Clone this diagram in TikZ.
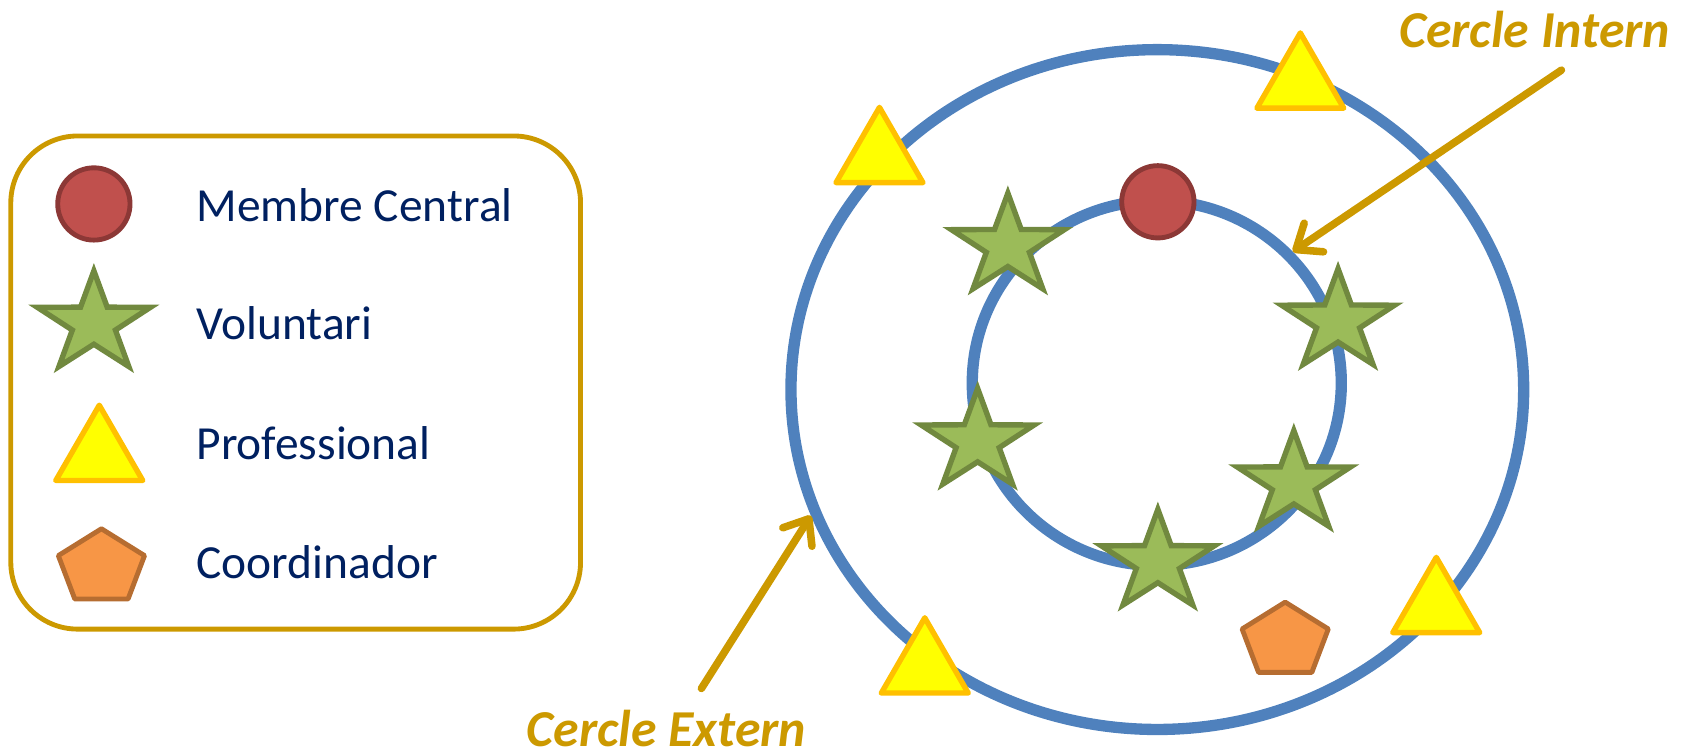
\documentclass[tikz,border=0pt]{standalone}
\usepackage{fontspec}
\setmainfont{Carlito}
\usetikzlibrary{shapes.geometric,arrows.meta}
\definecolor{ringblue}{RGB}{79,129,189}
\definecolor{gold}{RGB}{204,153,0}
\definecolor{navy}{RGB}{0,32,96}
\definecolor{redfill}{RGB}{192,80,77}
\definecolor{redline}{RGB}{140,56,54}
\definecolor{greenfill}{RGB}{155,187,89}
\definecolor{greenline}{RGB}{113,137,63}
\definecolor{yelfill}{RGB}{255,255,0}
\definecolor{yelline}{RGB}{255,192,0}
\definecolor{orfill}{RGB}{247,150,70}
\definecolor{orline}{RGB}{182,109,49}
\tikzset{
  ring/.style={draw=ringblue,line width=10.5pt,ellipse,inner sep=0pt},
  member/.style={circle,draw=redline,fill=redfill,line width=4.5pt,minimum size=67pt,inner sep=0pt},
  prof/.style={regular polygon,regular polygon sides=3,draw=yelline,fill=yelfill,line width=5pt,line join=round,minimum size=93pt,inner sep=0pt},
  legendbox/.style={draw=gold,line width=4.5pt,rounded corners=62pt,inner sep=0pt},
  legtext/.style={anchor=base west,text=navy,font=\fontsize{44}{52}\selectfont,inner sep=0pt},
  calltext/.style={text=gold,font=\fontsize{48}{56}\selectfont\bfseries\itshape,inner sep=0pt},
  goldarrow/.style={draw=gold,line width=7pt,line cap=round,-{Straight Barb[length=20pt,width=32pt,line cap=round,line join=round]}},
  pics/volstar/.style={code={
    \draw[draw=greenline,fill=greenfill,line width=5pt,line join=miter]
      (90:55pt and 49pt) -- (126:21pt and 19pt) -- (162:55pt and 49pt) -- (198:21pt and 19pt)
      -- (234:55pt and 49pt) -- (270:21pt and 19pt) -- (306:55pt and 49pt) -- (342:21pt and 19pt)
      -- (18:55pt and 49pt) -- (54:21pt and 19pt) -- cycle;}},
  pics/coord/.style={code={
    \draw[draw=orline,fill=orfill,line width=4.5pt,line join=round]
      (90:42pt and 36pt) -- (162:42pt and 36pt) -- (234:42pt and 36pt) -- (306:42pt and 36pt) -- (18:42pt and 36pt) -- cycle;}}
}
\begin{document}
\begin{tikzpicture}[x=1pt,y=-1pt]
\useasboundingbox (0,0) rectangle (1568,699);
% legend
\node[legendbox,minimum width=528pt,minimum height=457pt] (legend) at (274,354.5) {};
\node[member] (lcirc) at (87,189) {};
\pic at (87,300) {volstar};
\node[prof] (ltri) at (92,422) {};
\pic at (94,526) {coord};
\node[legtext] (t1) at (182,205) {Membre Central};
\node[legtext] (t2) at (182,315) {Voluntari};
\node[legtext] (t3) at (182,426) {Professional};
\node[legtext] (t4) at (182,536) {Coordinador};
% rings
\node[ring,minimum width=679pt,minimum height=630pt] (outer) at (1072.5,361) {};
\node[ring,minimum width=342pt,minimum height=338pt] (inner) at (1072,355) {};
% members
\node[member] (center) at (1073,187) {};
\pic at (934,228) {volstar};
\pic at (1240,298) {volstar};
\pic at (906,409) {volstar};
\pic at (1199,448) {volstar};
\pic at (1073,521) {volstar};
\node[prof] (p1) at (1205,77) {};
\node[prof] (p2) at (815,146) {};
\node[prof] (p3) at (1331,563) {};
\node[prof] (p4) at (857,619) {};
\pic at (1191,594) {coord};
% callouts
\coordinate (ai) at (1447,65);
\coordinate (ae) at (650,638);
\draw[goldarrow] (ai) -- (inner.44);
\draw[goldarrow] (ae) -- (outer.200);
\node[calltext,anchor=base east] (lint) at (1548,44) {Cercle Intern};
\node[calltext,anchor=base west] (lext) at (488,692) {Cercle Extern};
\end{tikzpicture}
\end{document}
